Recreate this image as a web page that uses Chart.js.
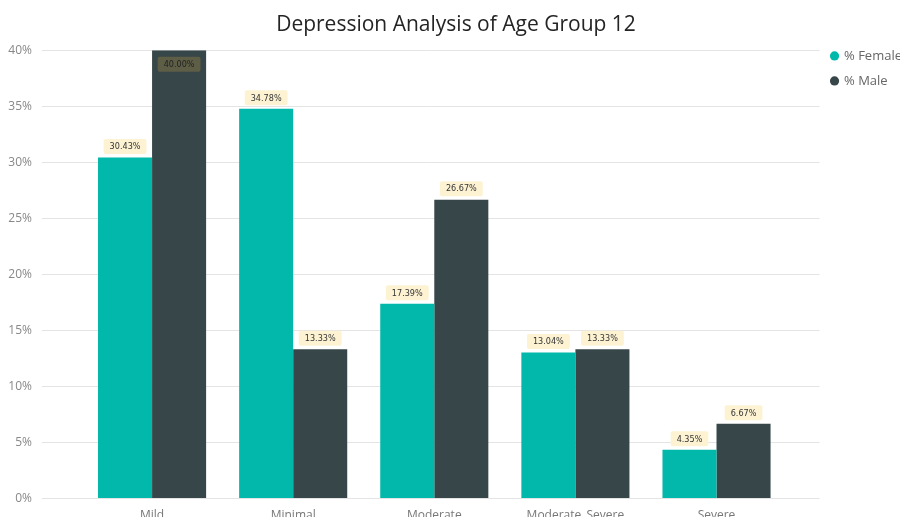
<!DOCTYPE html>
<html>
<head>
<meta charset="utf-8">
<title>Depression Analysis of Age Group 12</title>
<script src="https://cdn.jsdelivr.net/npm/chart.js@4.4.1/dist/chart.umd.min.js"></script>
<style>
  html, body { margin: 0; padding: 0; background: #fff; overflow: hidden; }
  #wrap { width: 900px; height: 517px; overflow: hidden; }
</style>
</head>
<body>
<div id="wrap"><canvas id="chart" width="900" height="533"></canvas></div>
<script>
'use strict';

// Data
const categories = ['Mild', 'Minimal', 'Moderate', 'Moderate_Severe', 'Severe'];
const female = [30.43, 34.78, 17.39, 13.04, 4.35];
const male = [40.00, 13.33, 26.67, 13.33, 6.67];
const yTicks = [0, 5, 10, 15, 20, 25, 30, 35, 40];

const TEAL = '#01B8AA';
const DARK = '#374649';
const FONT = "'Open Sans', 'Noto Sans', sans-serif";

function points(arr){ return arr.map((v, i) => ({ x: i, y: v })); }

// Value labels in small pale boxes above each bar (inside when no room)
const valueLabels = {
  id: 'valueLabels',
  afterDatasetsDraw(chart) {
    const ctx = chart.ctx;
    const area = chart.chartArea;
    ctx.save();
    ctx.font = "9px 'DejaVu Sans Condensed', 'Roboto', sans-serif";
    ctx.textAlign = 'center';
    ctx.textBaseline = 'middle';
    chart.data.datasets.forEach((ds, di) => {
      const meta = chart.getDatasetMeta(di);
      meta.data.forEach((bar, i) => {
        const text = ds.data[i].y.toFixed(2) + '%';
        const w = ctx.measureText(text).width + 12;
        const h = 15;
        let cy = bar.y - 11;
        let inside = false;
        if (cy - h / 2 < area.top) { cy = bar.y + 14; inside = true; }
        ctx.fillStyle = inside ? 'rgba(120,110,70,0.6)' : '#FDF3D3';
        ctx.beginPath();
        ctx.roundRect(bar.x - w / 2, cy - h / 2, w, h, 2);
        ctx.fill();
        ctx.fillStyle = inside ? '#222' : '#333';
        ctx.fillText(text, bar.x, cy + 0.5);
      });
    });
    ctx.restore();
  }
};

new Chart(document.getElementById('chart'), {
  type: 'bar',
  data: {
    datasets: [
      { label: '% Female', data: points(female), backgroundColor: TEAL, borderWidth: 0,
        barPercentage: 1, categoryPercentage: 0.766 },
      { label: '% Male', data: points(male), backgroundColor: DARK, borderWidth: 0,
        barPercentage: 1, categoryPercentage: 0.766 }
    ]
  },
  options: {
    responsive: false,
    animation: false,
    devicePixelRatio: 1,
    // negative right padding pushes the title centre a bit right, like the original
    layout: { padding: { left: 0, right: -12, top: 0, bottom: 0 } },
    plugins: {
      title: {
        display: true,
        text: 'Depression Analysis of Age Group 12',
        color: '#252423',
        font: { family: FONT, size: 21, weight: 'normal' },
        padding: { top: 12, bottom: 13 }
      },
      legend: {
        position: 'right',
        align: 'start',
        title: { display: true, text: ' ', font: { size: 12 }, padding: { top: 12, bottom: 11 } },
        labels: {
          usePointStyle: true,
          pointStyle: 'circle',
          boxWidth: 6,
          boxHeight: 6.5,
          padding: 12,
          color: '#666',
          font: { family: FONT, size: 13 }
        }
      },
      tooltip: { enabled: false }
    },
    scales: {
      x: {
        type: 'linear',
        min: -0.78,
        max: 4.73,
        offset: false,
        afterBuildTicks(scale) { scale.ticks = categories.map((c, i) => ({ value: i })); },
        grid: { display: false, drawTicks: false },
        border: { display: false },
        ticks: {
          color: '#777',
          padding: 10,
          font: { family: FONT, size: 12 },
          callback: (v) => categories[v]
        }
      },
      y: {
        min: 0,
        max: 40,
        afterBuildTicks(scale) { scale.ticks = yTicks.map(v => ({ value: v })); },
        afterFit(scale) { scale.width = 42; },
        grid: { color: '#E4E4E4', drawTicks: false },
        border: { display: false },
        ticks: {
          color: '#888',
          padding: 10,
          font: { family: FONT, size: 12 },
          callback: (v) => v + '%'
        }
      }
    }
  },
  plugins: [valueLabels]
});
</script>
</body>
</html>
